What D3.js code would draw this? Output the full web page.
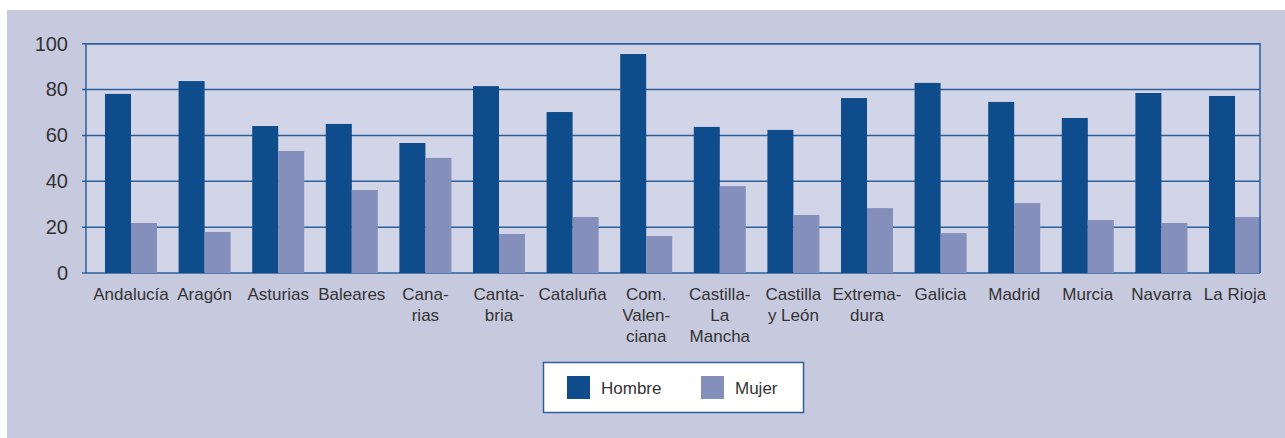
<!DOCTYPE html>
<html>
<head>
<meta charset="utf-8">
<script src="https://cdn.jsdelivr.net/npm/d3@7"></script>
<style>
  body { margin: 0; background: #fff; }
  text { font-family: "Liberation Sans", Arial, sans-serif; fill: #333; }
</style>
</head>
<body>
<div id="chart"></div>
<script>
var regions = ['Andalucía', 'Aragón', 'Asturias', 'Baleares', 'Cana-\nrias', 'Canta-\nbria', 'Cataluña',
  'Com.\nValen-\nciana', 'Castilla-\nLa\nMancha', 'Castilla\ny León', 'Extrema-\ndura', 'Galicia',
  'Madrid', 'Murcia', 'Navarra', 'La Rioja'];
var series = ['Hombre', 'Mujer'];
var hombre = [78.1, 83.7, 64.1, 65.0, 56.7, 81.5, 70.2, 95.5, 63.7, 62.4, 76.3, 82.9, 74.6, 67.6, 78.5, 77.2];
var mujer = [21.8, 17.9, 53.2, 36.2, 50.2, 17.0, 24.4, 16.1, 37.9, 25.3, 28.3, 17.4, 30.5, 23.1, 21.8, 24.4];
var yTicks = [0, 20, 40, 60, 80, 100];

var colors = { Hombre: '#0f4c8c', Mujer: '#848fbb' };
var lineColor = '#2c5f9c';

const width = 1285, height = 438;
const plot = { left: 86, right: 1260, top: 43.7, bottom: 273 };

var svg = d3.select('#chart')
  .append('svg')
  .attr('width', width)
  .attr('height', height);

// outer panel
svg.append('rect')
  .attr('x', 7).attr('y', 10)
  .attr('width', width - 7).attr('height', height - 10)
  .attr('fill', '#c7c9df');

// plot area
svg.append('rect')
  .attr('x', plot.left).attr('y', plot.top)
  .attr('width', plot.right - plot.left).attr('height', plot.bottom - plot.top)
  .attr('fill', '#d2d5e7');

// Scales
var scaleY = d3.scaleLinear()
  .domain([0, 100])
  .range([plot.bottom, plot.top]);

var scaleX = d3.scaleBand()
  .domain(regions)
  .range([94.2, 1271.8])
  .paddingInner(0.293)
  .paddingOuter(0.1465);

var scaleSeries = d3.scaleBand()
  .domain(series)
  .range([0, scaleX.bandwidth()]);

// gridlines
svg.append('g')
  .selectAll('line')
  .data(yTicks)
  .enter()
  .append('line')
  .attr('x1', plot.left - 4)
  .attr('x2', plot.right)
  .attr('y1', function (d) { return scaleY(d); })
  .attr('y2', function (d) { return scaleY(d); })
  .attr('stroke', lineColor)
  .attr('stroke-width', 1.5);

// bars
var rows = regions.map(function (r, i) {
  return { region: r, values: [{ key: 'Hombre', v: hombre[i] }, { key: 'Mujer', v: mujer[i] }] };
});

svg.append('g')
  .selectAll('g')
  .data(rows)
  .enter()
  .append('g')
  .attr('transform', function (d) { return 'translate(' + scaleX(d.region) + ',0)'; })
  .selectAll('rect')
  .data(function (d) { return d.values; })
  .enter()
  .append('rect')
  .attr('x', function (d) { return scaleSeries(d.key); })
  .attr('y', function (d) { return scaleY(d.v); })
  .attr('width', scaleSeries.bandwidth())
  .attr('height', function (d) { return scaleY(0) - scaleY(d.v); })
  .attr('fill', function (d) { return colors[d.key]; });

// plot frame (top, right, left)
svg.append('path')
  .attr('d', 'M' + plot.left + ',' + plot.bottom + 'V' + plot.top + 'H' + plot.right + 'V' + plot.bottom)
  .attr('fill', 'none')
  .attr('stroke', lineColor)
  .attr('stroke-width', 1.5);

// Y axis labels
var axisY = d3.axisLeft()
  .scale(scaleY)
  .tickValues(yTicks)
  .tickSize(0)
  .tickPadding(18);

var gy = svg.append('g')
  .attr('transform', 'translate(' + plot.left + ',0)')
  .call(axisY);
gy.select('.domain').remove();
gy.selectAll('text')
  .attr('font-size', '20px')
  .attr('font-family', '"Liberation Sans", Arial, sans-serif')
  .attr('fill', '#333');

// X axis labels
var axisX = d3.axisBottom()
  .scale(scaleX)
  .tickSize(0);

var gx = svg.append('g')
  .attr('transform', 'translate(0,' + plot.bottom + ')')
  .call(axisX);
gx.select('.domain').remove();
gx.selectAll('text').each(function (d) {
  var t = d3.select(this);
  t.text(null)
    .attr('y', 27)
    .attr('dy', null)
    .attr('font-size', '17px')
    .attr('font-family', '"Liberation Sans", Arial, sans-serif')
    .attr('fill', '#333');
  d.split('\n').forEach(function (line, i) {
    t.append('tspan')
      .attr('x', 0)
      .attr('y', 27 + i * 21)
      .text(line);
  });
});

// Legend
var legend = svg.append('g');
legend.append('rect')
  .attr('x', 543.5).attr('y', 362.5)
  .attr('width', 260).attr('height', 50)
  .attr('fill', '#fff')
  .attr('stroke', lineColor)
  .attr('stroke-width', 1.5);

var legendX = d3.scaleOrdinal()
  .domain(series)
  .range([567, 701]);

var items = legend.selectAll('g.item')
  .data(series)
  .enter()
  .append('g')
  .attr('class', 'item')
  .attr('transform', function (d) { return 'translate(' + legendX(d) + ',376)'; });

items.append('rect')
  .attr('width', 23).attr('height', 23)
  .attr('fill', function (d) { return colors[d]; });

items.append('text')
  .attr('x', 34)
  .attr('y', 18)
  .attr('font-size', '17px')
  .text(function (d) { return d; });
</script>
</body>
</html>
